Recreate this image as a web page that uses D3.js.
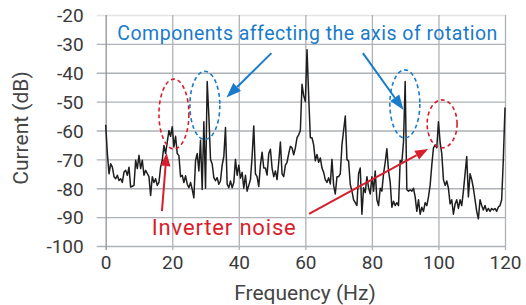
<!DOCTYPE html>
<html>
<head>
<meta charset="utf-8">
<script src="https://cdn.jsdelivr.net/npm/d3@7"></script>
<style>
  body { margin: 0; background: #fff; }
  text { font-family: Roboto, "Noto Sans", sans-serif; }
</style>
</head>
<body>
<script>
// spectrum data, 0.5 Hz bins from 0 to 120 Hz
var xTicks = [0, 20, 40, 60, 80, 100, 120];
var yTicks = [-100, -90, -80, -70, -60, -50, -40, -30, -20];
var binStep = 0.5;
var currentDb = [
  -58, -68, -75, -71.5, -72.7, -76, -76.7, -75.5, -77.3, -76.7,
  -78, -74.4, -73.8, -75.5, -72.7, -79.6, -79.3, -79, -70.3, -73.2,
  -68.6, -73.2, -70.3, -75.5, -73.8, -74.9, -76, -82.5, -76, -78,
  -76.7, -79, -78, -72.7, -70.3, -65.2, -68, -64, -60, -62,
  -58.7, -65.7, -62, -68, -68.7, -76, -75.5, -78, -75.7, -78.6,
  -79.8, -78, -80.4, -83.3, -70.4, -68, -74, -63.4, -80.4, -57,
  -80, -43, -55, -70, -71.6, -76.3, -77.4, -76.3, -78.6, -77.4,
  -72, -69, -59, -78.6, -79.8, -77.5, -79.8, -78, -70, -75.5,
  -72, -76.5, -74.5, -80, -75.5, -81, -79, -77, -69, -58.4,
  -75, -76, -79.4, -72, -67.5, -73, -73, -75.4, -68, -66.5,
  -73, -76, -74, -77, -71, -64, -75, -76, -72, -71,
  -68, -65.5, -66, -68.4, -66, -62.5, -61.5, -60, -44, -48,
  -50, -32, -48, -62.5, -62.5, -65, -70.5, -68.3, -71, -69.5,
  -73, -74.5, -77, -78, -76.4, -78.5, -70, -79, -82, -76,
  -76, -75, -65, -60, -55, -70, -70.6, -78.7, -81, -84,
  -85, -86, -75, -73, -89, -79.8, -81.5, -76, -79.8, -82,
  -76, -81, -74, -84, -86, -80, -81, -75, -71, -66.3,
  -74, -78, -86.6, -84.5, -86, -85, -86, -70.4, -71, -64,
  -43, -80.5, -81, -80.5, -81, -80, -83, -88, -84, -89,
  -86.6, -88, -85, -86, -83, -79, -72, -66, -65, -66,
  -57, -64, -68, -77, -79, -77.5, -80, -85.4, -84, -89,
  -85.5, -84, -87, -84, -86, -81, -75, -69, -83, -75,
  -77, -80, -84, -88, -90.6, -84, -86, -87.5, -86, -88,
  -87, -88, -87, -87.5, -87, -88, -86.5, -86, -84, -70,
  -52
];
var spectrum = currentDb.map(function(d, i) { return {hz: i * binStep, db: d}; });

// annotations, in data units (Hz, dB)
var blueEllipses = [{hz: 29.8, db: -51.3, rHz: 4.5, rDb: 11.8}, {hz: 89.9, db: -50.8, rHz: 4.5, rDb: 11.8}];
var redEllipses = [{hz: 20.5, db: -54.3, rHz: 4.5, rDb: 12.1}, {hz: 101.1, db: -57.7, rHz: 4.5, rDb: 8.3}];
var blueArrows = [{from: [49.8, -33.2], to: [36.3, -48.6]}, {from: [77.3, -33.2], to: [89.5, -52.9]}];
var redArrows = [{from: [16.9, -87.9], to: [18.3, -67.8]}, {from: [61.1, -88.9], to: [96.9, -66.4]}];

var blue = "#1a7bc9", red = "#d81e2c", grid = "#aeb2b6";

var svg = d3.select("body").append("svg")
  .attr("width", 526)
  .attr("height", 305);

var x = d3.scaleLinear().domain([0, 120]).range([105.7, 505]);
var y = d3.scaleLinear().domain([-100, -20]).range([246, 15]);

// horizontal grid + y labels (plain hyphen like the original)
var yAxis = svg.append("g")
  .attr("transform", "translate(105.7,0)")
  .call(d3.axisLeft(y).tickValues(yTicks).tickSize(-(505 - 105.7)).tickPadding(22)
    .tickFormat(function(d) { return String(d); }));
yAxis.select(".domain").remove();
yAxis.selectAll(".tick line")
  .attr("x1", -9)
  .attr("stroke", function(d) { return d === -20 ? "#e2e4e6" : grid; })
  .attr("stroke-width", 1.3);
yAxis.selectAll(".tick text")
  .attr("font-size", 19)
  .attr("fill", "#3a3a3a")
  .attr("dy", "0.36em");

// vertical grid + x labels
var xAxis = svg.append("g")
  .attr("transform", "translate(0,246)")
  .call(d3.axisBottom(x).tickValues(xTicks).tickSize(-(246 - 15)).tickPadding(10));
xAxis.select(".domain").remove();
xAxis.selectAll(".tick line")
  .attr("y1", 4)
  .attr("stroke", function(d) { return d === 0 ? "#8e9398" : grid; })
  .attr("stroke-width", 1.3);
xAxis.selectAll(".tick text")
  .attr("font-size", 19)
  .attr("fill", "#3a3a3a");

// axis titles
svg.append("text")
  .attr("x", 305).attr("y", 300)
  .attr("text-anchor", "middle")
  .attr("font-size", 21)
  .attr("fill", "#444")
  .text("Frequency (Hz)");
svg.append("text")
  .attr("transform", "translate(28,128) rotate(-90)")
  .attr("text-anchor", "middle")
  .attr("font-size", 21)
  .attr("fill", "#444")
  .text("Current (dB)");

// spectrum line
var line = d3.line()
  .x(function(d) { return x(d.hz); })
  .y(function(d) { return y(d.db); });
svg.append("path")
  .datum(spectrum)
  .attr("d", line)
  .attr("fill", "none")
  .attr("stroke", "#1e1e1e")
  .attr("stroke-width", 1.5)
  .attr("stroke-linejoin", "round");

// dashed ellipses
function drawEllipses(list, color) {
  svg.selectAll(null).data(list)
    .enter().append("ellipse")
    .attr("cx", function(d) { return x(d.hz); })
    .attr("cy", function(d) { return y(d.db); })
    .attr("rx", function(d) { return x(d.rHz) - x(0); })
    .attr("ry", function(d) { return y(-100) - y(-100 + d.rDb); })
    .attr("fill", "none")
    .attr("stroke", color)
    .attr("stroke-width", 1.6)
    .attr("stroke-dasharray", "4,3");
}
drawEllipses(blueEllipses, blue);
drawEllipses(redEllipses, red);

// arrows: shaft + filled head
function drawArrows(list, color, headLen, headW) {
  list.forEach(function(a) {
    var x1 = x(a.from[0]), y1 = y(a.from[1]);
    var x2 = x(a.to[0]), y2 = y(a.to[1]);
    var ang = Math.atan2(y2 - y1, x2 - x1);
    var bx = x2 - headLen * Math.cos(ang), by = y2 - headLen * Math.sin(ang);
    svg.append("line")
      .attr("x1", x1).attr("y1", y1)
      .attr("x2", bx).attr("y2", by)
      .attr("stroke", color)
      .attr("stroke-width", 2);
    var px = -Math.sin(ang) * headW / 2, py = Math.cos(ang) * headW / 2;
    svg.append("path")
      .attr("d", "M" + x2 + "," + y2 + "L" + (bx + px) + "," + (by + py) + "L" + (bx - px) + "," + (by - py) + "Z")
      .attr("fill", color);
  });
}
drawArrows(blueArrows, blue, 15, 11);
drawArrows(redArrows, red, 13, 10);

// annotation labels
svg.append("text")
  .attr("x", x(3.5)).attr("y", y(-28.8))
  .attr("font-size", 19.5)
  .attr("fill", blue)
  .attr("textLength", 380)
  .attr("lengthAdjust", "spacing")
  .text("Components affecting the axis of rotation");
svg.append("text")
  .attr("x", x(13.85)).attr("y", y(-96.2))
  .attr("font-size", 22)
  .attr("fill", red)
  .attr("textLength", 144)
  .attr("lengthAdjust", "spacing")
  .text("Inverter noise");
</script>
</body>
</html>
